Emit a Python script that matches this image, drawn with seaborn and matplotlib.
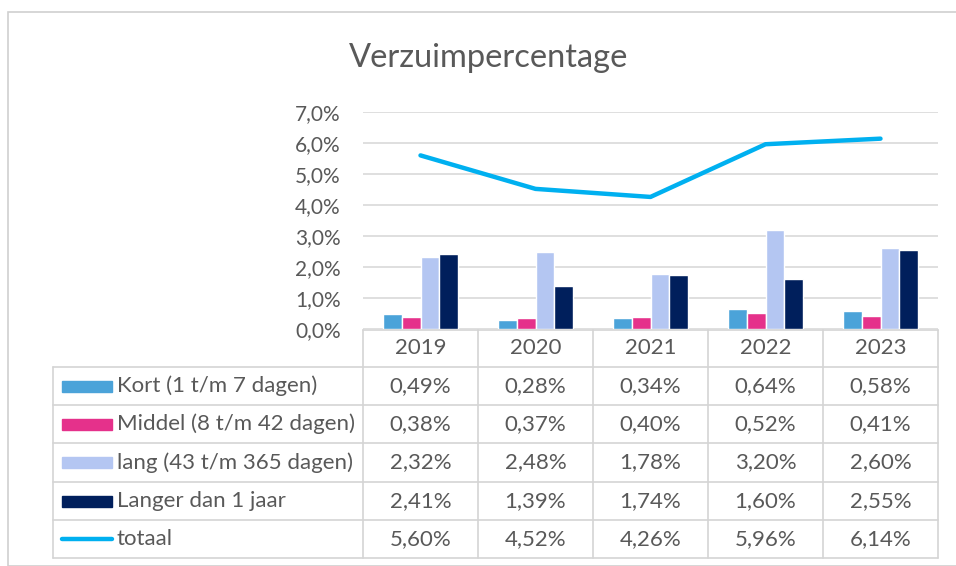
import numpy as np
import pandas as pd
import seaborn as sns
import matplotlib.pyplot as plt
from matplotlib.ticker import FuncFormatter
from matplotlib.patches import Rectangle
from matplotlib.lines import Line2D

years = ["2019", "2020", "2021", "2022", "2023"]
series = ["Kort (1 t/m 7 dagen)", "Middel (8 t/m 42 dagen)",
          "lang (43 t/m 365 dagen)", "Langer dan 1 jaar"]
kort = [0.49, 0.28, 0.34, 0.64, 0.58]
middel = [0.38, 0.37, 0.40, 0.52, 0.41]
lang = [2.32, 2.48, 1.78, 3.20, 2.60]
langer = [2.41, 1.39, 1.74, 1.60, 2.55]
totaal = [5.60, 4.52, 4.26, 5.96, 6.14]
yticks = [0, 1, 2, 3, 4, 5, 6, 7]

colors = ["#4BA3D9", "#E5318B", "#B4C6F2", "#001F5C"]
line_color = "#00B0F0"
text_color = "#595959"
grid_color = "#D9D9D9"

df = pd.DataFrame({
    "jaar": years * 4,
    "type": [s for s in series for _ in years],
    "waarde": kort + middel + lang + langer,
})

sns.set_theme(style="white")
plt.rcParams["font.family"] = ["Lato", "DejaVu Sans"]

W, H = 956, 566
fig = plt.figure(figsize=(W / 100, H / 100), dpi=100)


def fx(px):
    return px / W


def fy(py):
    return 1 - py / H


# outer chart border
fig.patches.append(Rectangle((fx(8), fy(566)), fx(960 - 8), fy(12) - fy(566),
                             transform=fig.transFigure, fill=False,
                             edgecolor="#D0D0D0", linewidth=1.2))

# plot area
x0, x1, ytop, ybot = 363, 938, 112, 329
ax = fig.add_axes([fx(x0), fy(ybot), fx(x1 - x0), fy(ytop) - fy(ybot)])
sns.barplot(data=df, x="jaar", y="waarde", hue="type", palette=colors,
            width=0.645, legend=False, ax=ax, saturation=1)
sns.lineplot(x=np.arange(len(years)), y=totaal, color=line_color,
             linewidth=3.2, ax=ax, solid_capstyle="round")
ax.set_xlim(-0.5, len(years) - 0.5)
ax.set_ylim(0, 7)
ax.set_yticks(yticks)
ax.yaxis.set_major_formatter(FuncFormatter(lambda v, p: f"{v:.1f}%".replace(".", ",")))
ax.tick_params(axis="y", length=0, labelsize=15, labelcolor=text_color, pad=16)
ax.set_xticks([])
ax.set_xlabel("")
ax.set_ylabel("")
for s in ax.spines.values():
    s.set_visible(False)
ax.grid(axis="y", color=grid_color, linewidth=1.2)
ax.set_axisbelow(True)

fig.text(fx(489), fy(58), "Verzuimpercentage", ha="center", va="center",
         fontsize=23.5, color=text_color)

# data table below the chart
tab = fig.add_axes([0, 0, 1, 1])
tab.set_xlim(0, W)
tab.set_ylim(H, 0)
tab.axis("off")

col_edges = [363, 478, 593, 708, 823, 938]
row_edges = [330, 367, 405, 443, 482, 520, 558]
label_left = 53
lc = "#D4D4D4"
fs = 16

tab.plot([col_edges[0], col_edges[-1]], [row_edges[0]] * 2, color=lc, lw=1.2)
for r in row_edges[1:]:
    tab.plot([label_left, col_edges[-1]], [r, r], color=lc, lw=1.2)
for c in col_edges:
    tab.plot([c, c], [row_edges[0], row_edges[-1]], color=lc, lw=1.2)
tab.plot([label_left, label_left], [row_edges[1], row_edges[-1]], color=lc, lw=1.2)

for j, yr in enumerate(years):
    cx = (col_edges[j] + col_edges[j + 1]) / 2
    tab.text(cx, (row_edges[0] + row_edges[1]) / 2, yr, ha="center", va="center",
             fontsize=fs, color=text_color)

rows = [kort, middel, lang, langer, totaal]
labels = series + ["totaal"]
for i, (lab, vals) in enumerate(zip(labels, rows)):
    cy = (row_edges[i + 1] + row_edges[i + 2]) / 2
    if i < 4:
        tab.add_patch(Rectangle((62, cy - 5.5), 50, 11, color=colors[i]))
    else:
        tab.add_line(Line2D([62, 112], [cy, cy], color=line_color, lw=3.2,
                            solid_capstyle="round"))
    tab.text(117, cy, lab, ha="left", va="center", fontsize=fs, color=text_color)
    for j, v in enumerate(vals):
        cx = (col_edges[j] + col_edges[j + 1]) / 2
        tab.text(cx, cy, f"{v:.2f}%".replace(".", ","), ha="center", va="center",
                 fontsize=fs, color=text_color)

fig.savefig("out.png", dpi=100)
